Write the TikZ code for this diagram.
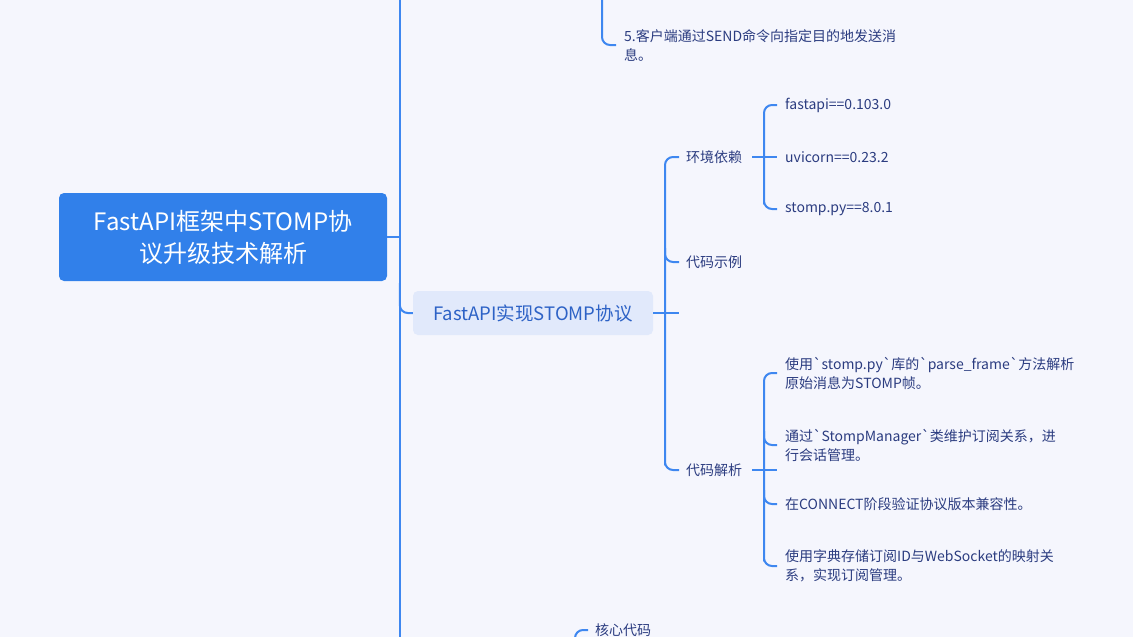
\documentclass[tikz,border=0pt]{standalone}
\usepackage{fontspec}
\newfontfamily\yahei{Noto Sans CJK SC}
\usetikzlibrary{positioning,calc}
\definecolor{pagebg}  {HTML}{F5F6FD}
\definecolor{rootblue}{HTML}{3180EA}
\definecolor{linkblue}{HTML}{3E87F0}
\definecolor{subbg}   {HTML}{E1E9FB}
\definecolor{subtext} {HTML}{2D62C6}
\definecolor{leaftext}{HTML}{2B3C80}
\tikzset{
  rootbox/.style ={fill=rootblue, text=white, rounded corners=5pt,
                   minimum width=328pt, minimum height=88pt, align=center,
                   font=\yahei\fontsize{24}{32}\selectfont},
  subbox/.style  ={fill=subbg, text=subtext, rounded corners=5pt,
                   minimum width=240pt, minimum height=44pt,
                   font=\yahei\fontsize{18.5}{22}\selectfont},
  leaf/.style    ={text=leaftext, anchor=west, inner sep=0pt, align=left,
                   font=\yahei\fontsize{14}{19}\selectfont},
  link/.style    ={draw=linkblue, line width=2pt, rounded corners=8pt},
}
\begin{document}
\begin{tikzpicture}[x=1pt,y=-1pt]
  \path[use as bounding box, fill=pagebg] (0,0) rectangle (1133,637);
  \clip (0,0) rectangle (1133,637);

  \node[rootbox] (root) at (223,237) {FastAPI框架中STOMP协\\议升级技术解析};
  \node[subbox]  (impl) at (533,313) {FastAPI实现STOMP协议};

  \node[leaf] (send) at (624,45)  {5.客户端通过SEND命令向指定目的地发送消\\息。};
  \node[leaf] (env)  at (686,157) {环境依赖};
  \node[leaf] (demo) at (686,262) {代码示例};
  \node[leaf] (ana)  at (686,470) {代码解析};

  \node[leaf] (dep1) at (785,105) {fastapi==0.103.0};
  \node[leaf] (dep2) at (785,157) {uvicorn==0.23.2};
  \node[leaf] (dep3) at (785,209) {stomp.py==8.0.1};

  \node[leaf] (ana1) at (785,373) {使用`stomp.py`库的`parse\_frame`方法解析\\原始消息为STOMP帧。};
  \node[leaf] (ana2) at (785,445) {通过`StompManager`类维护订阅关系，进\\行会话管理。};
  \node[leaf] (ana3) at (785,504) {在CONNECT阶段验证协议版本兼容性。};
  \node[leaf] (ana4) at (785,566) {使用字典存储订阅ID与WebSocket的映射关\\系，实现订阅管理。};

  \node[leaf] (core) at (595,630) {核心代码};

  % main spine
  \coordinate (spinetop) at (400,-10);
  \coordinate (spinebot) at (400,647);
  \draw[link] (spinetop) -- (spinebot);
  \draw[link] (root.east) -- (root.east -| spinetop);
  \draw[link] ($(impl.west)+(-13,-30)$) |- (impl.west);

  % clipped branches
  \draw[link] ($(send.west)+(-22,-60)$) |- ($(send.west)+(-8,0)$);
  \draw[link] ($(core.west)+(-20,20)$) |- ($(core.west)+(-7,0)$);

  % FastAPI实现STOMP协议
  \draw[link] (impl.east) -- ($(impl.east -| demo.west)+(-7,0)$);
  \draw[link] ($(env.west)+(-7,0)$) -| ($(ana.west)+(-21,0)$) |- ($(ana.west)+(-7,0)$);
  \draw[link] ($(demo.west)+(-21,-14)$) |- ($(demo.west)+(-7,0)$);

  % 环境依赖
  \draw[link] ($(env.east)+(10,0)$) -- ($(dep2.west)+(-8,0)$);
  \draw[link] ($(dep1.west)+(-8,0)$) -| ($(dep3.west)+(-21,0)$) |- ($(dep3.west)+(-8,0)$);

  % 代码解析
  \draw[link] ($(ana.east)+(10,0)$) -- ($(ana.east -| ana1.west)+(-8,0)$);
  \draw[link] ($(ana1.west)+(-8,0)$) -| ($(ana4.west)+(-21,0)$) |- ($(ana4.west)+(-8,0)$);
  \draw[link] ($(ana2.west)+(-21,-14)$) |- ($(ana2.west)+(-8,0)$);
  \draw[link] ($(ana3.west)+(-21,-14)$) |- ($(ana3.west)+(-8,0)$);
\end{tikzpicture}
\end{document}
